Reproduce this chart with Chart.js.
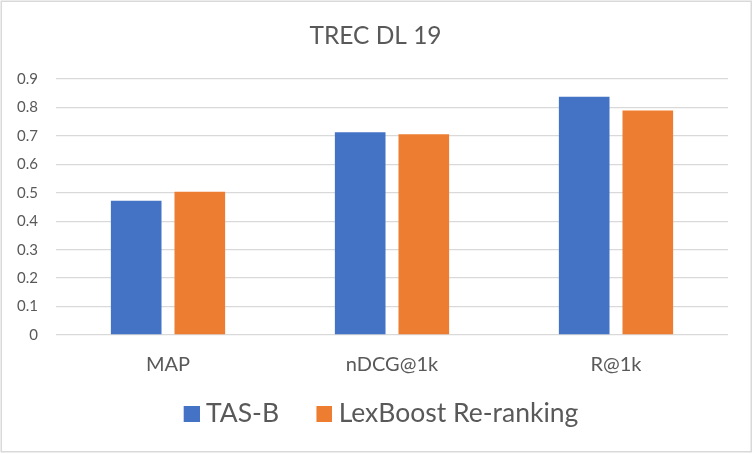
<!DOCTYPE html>
<html>
<head>
<meta charset="utf-8">
<script src="https://cdn.jsdelivr.net/npm/chart.js@4"></script>
<style>
html,body{margin:0;padding:0;background:#fff;}
#wrap{position:relative;width:754px;height:454px;}
</style>
</head>
<body>
<div id="wrap"><canvas id="c" width="754" height="454"></canvas></div>
<script>
const chartTitle = 'TREC DL 19';
const categories = ['MAP', 'nDCG@1k', 'R@1k'];
const seriesNames = ['TAS-B', 'LexBoost Re-ranking'];
const tasB = [0.472, 0.713, 0.838];
const lexBoost = [0.504, 0.706, 0.789];
const yTickLabels = ['0', '0.1', '0.2', '0.3', '0.4', '0.5', '0.6', '0.7', '0.8', '0.9'];
const seriesColors = ['#4472C4', '#ED7D31'];

const TEXT = '#595959';
const GRID = '#d9d9d9';
const FONT = 'Lato';

// legend marker: 16x16 square placed at the right end of a wider transparent image
function makeMarker(color) {
  const cv = document.createElement('canvas');
  cv.width = 34; cv.height = 16;
  const g = cv.getContext('2d');
  g.fillStyle = color;
  g.fillRect(18, 0, 16, 16);
  return cv;
}
const markers = seriesColors.map(makeMarker);

const frame = {
  id: 'frame',
  afterLayout(chart) {
    const x = chart.scales.x;
    x.bottom = x.top + 60;
  },
  beforeDraw(chart) {
    const ctx = chart.ctx;
    ctx.save();
    ctx.fillStyle = '#fff';
    ctx.fillRect(0, 0, chart.width, chart.height);
    ctx.strokeStyle = GRID;
    ctx.lineWidth = 1.5;
    ctx.strokeRect(1.25, 1.25, 750, 450.5);
    ctx.restore();
  }
};

new Chart(document.getElementById('c'), {
  type: 'bar',
  data: {
    labels: categories,
    datasets: [
      { label: seriesNames[0], data: tasB, backgroundColor: seriesColors[0], barPercentage: 0.796, categoryPercentage: 0.568 },
      { label: seriesNames[1], data: lexBoost, backgroundColor: seriesColors[1], barPercentage: 0.796, categoryPercentage: 0.568 }
    ]
  },
  options: {
    responsive: false,
    animation: false,
    devicePixelRatio: 1,
    layout: { padding: { top: 0, left: 0, right: 3, bottom: 17 } },
    plugins: {
      title: {
        display: true, text: chartTitle, color: TEXT,
        font: { family: FONT, size: 24.5, weight: 'normal' },
        padding: { top: 21, bottom: 28.6 }
      },
      legend: {
        position: 'bottom',
        labels: {
          color: TEXT, usePointStyle: true, pointStyleWidth: 20, boxHeight: 16, padding: 26.4,
          font: { family: FONT, size: 26.5 },
          generateLabels(chart) {
            const items = Chart.defaults.plugins.legend.labels.generateLabels(chart);
            items.forEach((it, i) => { it.pointStyle = markers[i]; });
            return items;
          }
        }
      },
      tooltip: { enabled: false }
    },
    scales: {
      x: {
        grid: { display: false, drawTicks: false },
        border: { display: false },
        ticks: { color: TEXT, padding: 17.5, font: { family: FONT, size: 20 } },
        afterFit(s) { s.height = 39.1; }
      },
      y: {
        min: 0, max: 0.9,
        grid: { color: GRID, lineWidth: 1.3, drawTicks: false },
        border: { display: false },
        ticks: {
          stepSize: 0.1, color: TEXT, padding: 18,
          font: { family: FONT, size: 15 },
          callback: (v, i) => yTickLabels[i]
        },
        afterFit(s) { s.width = 56; }
      },
      yRight: {
        type: 'linear', position: 'right',
        grid: { display: false, drawTicks: false },
        border: { display: false },
        ticks: { display: false },
        afterFit(s) { s.width = 23; }
      }
    }
  },
  plugins: [frame]
});
</script>
</body>
</html>
